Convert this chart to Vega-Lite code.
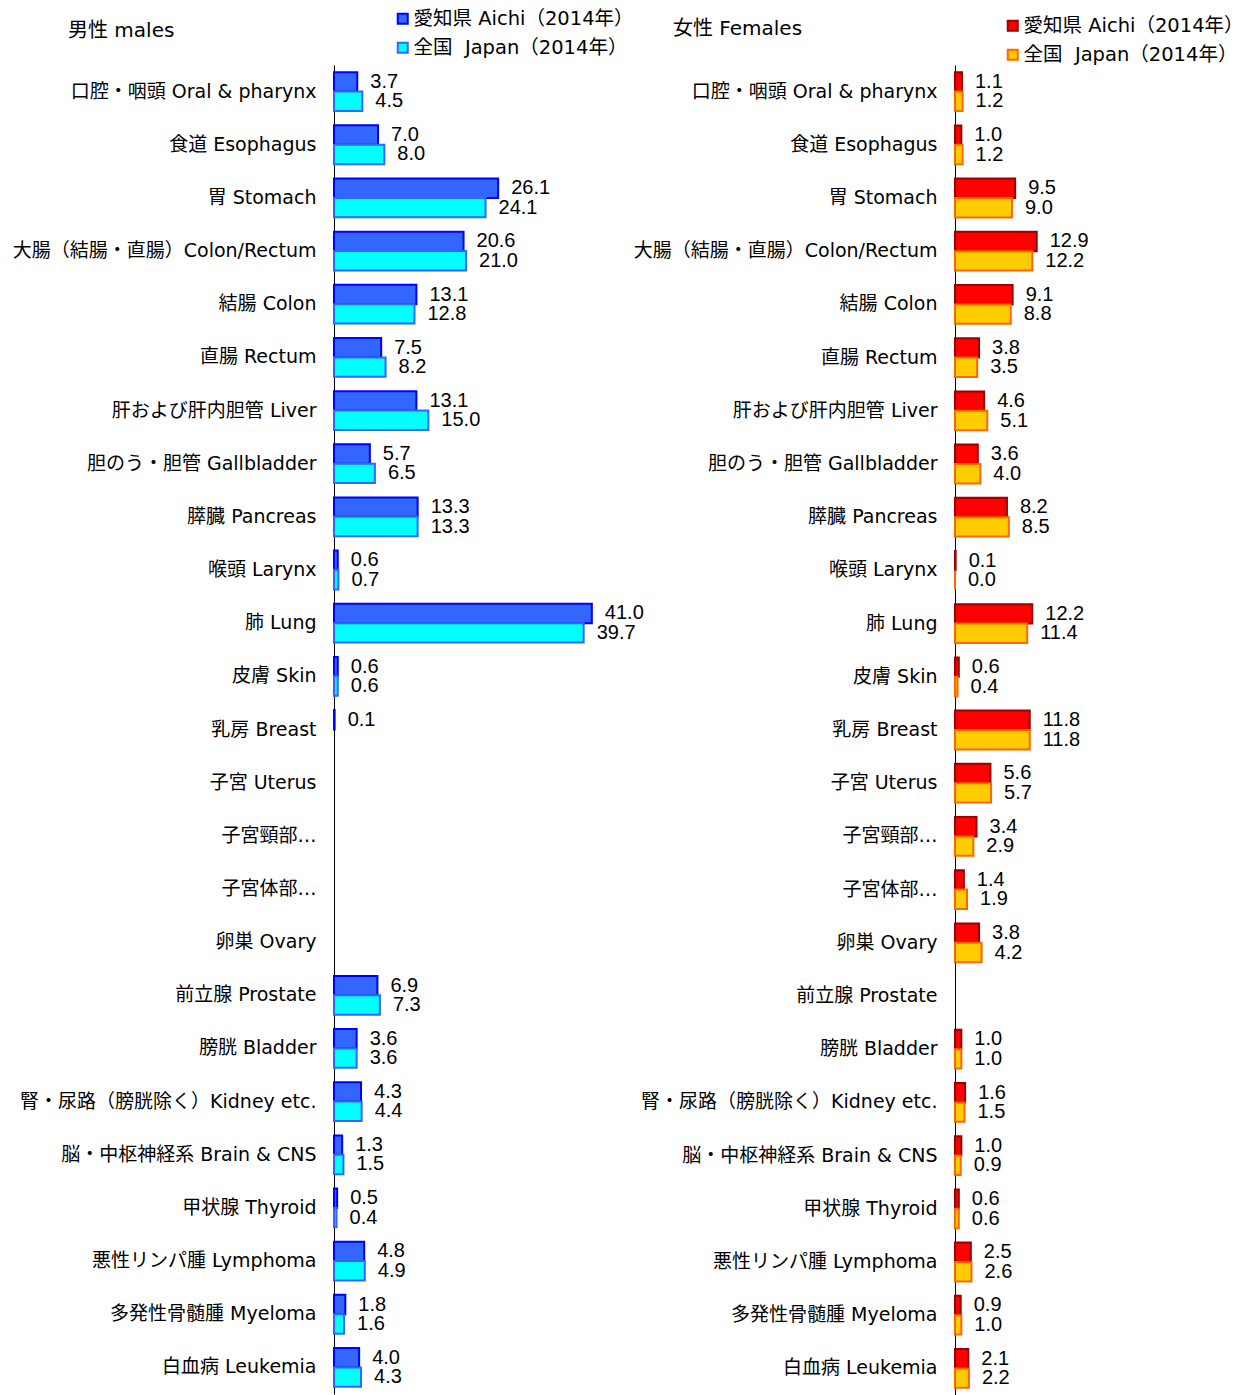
{
  "$schema": "https://vega.github.io/schema/vega-lite/v6.json",
  "background": "white",
  "padding": {"left": 12, "top": 9, "right": 0, "bottom": 0},
  "bounds": "flush",
  "spacing": 338,
  "config": {
    "font": "DejaVu Sans, Noto Sans CJK JP",
    "view": {"stroke": null},
    "axis": {"grid": false}
  },
  "datasets": {
    "males": [
      {"cat": "口腔・咽頭 Oral & pharynx", "series": "愛知県 Aichi（2014年）", "value": 3.7},
      {"cat": "口腔・咽頭 Oral & pharynx", "series": "\u00a0全国\u00a0\u00a0Japan（2014年）", "value": 4.5},
      {"cat": "食道 Esophagus", "series": "愛知県 Aichi（2014年）", "value": 7.0},
      {"cat": "食道 Esophagus", "series": "\u00a0全国\u00a0\u00a0Japan（2014年）", "value": 8.0},
      {"cat": "胃 Stomach", "series": "愛知県 Aichi（2014年）", "value": 26.1},
      {"cat": "胃 Stomach", "series": "\u00a0全国\u00a0\u00a0Japan（2014年）", "value": 24.1},
      {"cat": "大腸（結腸・直腸）Colon/Rectum", "series": "愛知県 Aichi（2014年）", "value": 20.6},
      {"cat": "大腸（結腸・直腸）Colon/Rectum", "series": "\u00a0全国\u00a0\u00a0Japan（2014年）", "value": 21.0},
      {"cat": "結腸 Colon", "series": "愛知県 Aichi（2014年）", "value": 13.1},
      {"cat": "結腸 Colon", "series": "\u00a0全国\u00a0\u00a0Japan（2014年）", "value": 12.8},
      {"cat": "直腸 Rectum", "series": "愛知県 Aichi（2014年）", "value": 7.5},
      {"cat": "直腸 Rectum", "series": "\u00a0全国\u00a0\u00a0Japan（2014年）", "value": 8.2},
      {"cat": "肝および肝内胆管 Liver", "series": "愛知県 Aichi（2014年）", "value": 13.1},
      {"cat": "肝および肝内胆管 Liver", "series": "\u00a0全国\u00a0\u00a0Japan（2014年）", "value": 15.0},
      {"cat": "胆のう・胆管 Gallbladder", "series": "愛知県 Aichi（2014年）", "value": 5.7},
      {"cat": "胆のう・胆管 Gallbladder", "series": "\u00a0全国\u00a0\u00a0Japan（2014年）", "value": 6.5},
      {"cat": "膵臓 Pancreas", "series": "愛知県 Aichi（2014年）", "value": 13.3},
      {"cat": "膵臓 Pancreas", "series": "\u00a0全国\u00a0\u00a0Japan（2014年）", "value": 13.3},
      {"cat": "喉頭 Larynx", "series": "愛知県 Aichi（2014年）", "value": 0.6},
      {"cat": "喉頭 Larynx", "series": "\u00a0全国\u00a0\u00a0Japan（2014年）", "value": 0.7},
      {"cat": "肺 Lung", "series": "愛知県 Aichi（2014年）", "value": 41.0},
      {"cat": "肺 Lung", "series": "\u00a0全国\u00a0\u00a0Japan（2014年）", "value": 39.7},
      {"cat": "皮膚 Skin", "series": "愛知県 Aichi（2014年）", "value": 0.6},
      {"cat": "皮膚 Skin", "series": "\u00a0全国\u00a0\u00a0Japan（2014年）", "value": 0.6},
      {"cat": "乳房 Breast", "series": "愛知県 Aichi（2014年）", "value": 0.1},
      {"cat": "前立腺 Prostate", "series": "愛知県 Aichi（2014年）", "value": 6.9},
      {"cat": "前立腺 Prostate", "series": "\u00a0全国\u00a0\u00a0Japan（2014年）", "value": 7.3},
      {"cat": "膀胱 Bladder", "series": "愛知県 Aichi（2014年）", "value": 3.6},
      {"cat": "膀胱 Bladder", "series": "\u00a0全国\u00a0\u00a0Japan（2014年）", "value": 3.6},
      {"cat": "腎・尿路（膀胱除く）Kidney etc.", "series": "愛知県 Aichi（2014年）", "value": 4.3},
      {"cat": "腎・尿路（膀胱除く）Kidney etc.", "series": "\u00a0全国\u00a0\u00a0Japan（2014年）", "value": 4.4},
      {"cat": "脳・中枢神経系 Brain & CNS", "series": "愛知県 Aichi（2014年）", "value": 1.3},
      {"cat": "脳・中枢神経系 Brain & CNS", "series": "\u00a0全国\u00a0\u00a0Japan（2014年）", "value": 1.5},
      {"cat": "甲状腺 Thyroid", "series": "愛知県 Aichi（2014年）", "value": 0.5},
      {"cat": "甲状腺 Thyroid", "series": "\u00a0全国\u00a0\u00a0Japan（2014年）", "value": 0.4},
      {"cat": "悪性リンパ腫 Lymphoma", "series": "愛知県 Aichi（2014年）", "value": 4.8},
      {"cat": "悪性リンパ腫 Lymphoma", "series": "\u00a0全国\u00a0\u00a0Japan（2014年）", "value": 4.9},
      {"cat": "多発性骨髄腫 Myeloma", "series": "愛知県 Aichi（2014年）", "value": 1.8},
      {"cat": "多発性骨髄腫 Myeloma", "series": "\u00a0全国\u00a0\u00a0Japan（2014年）", "value": 1.6},
      {"cat": "白血病 Leukemia", "series": "愛知県 Aichi（2014年）", "value": 4.0},
      {"cat": "白血病 Leukemia", "series": "\u00a0全国\u00a0\u00a0Japan（2014年）", "value": 4.3}
    ],
    "females": [
      {"cat": "口腔・咽頭 Oral & pharynx", "series": "愛知県 Aichi（2014年）", "value": 1.1},
      {"cat": "口腔・咽頭 Oral & pharynx", "series": "\u00a0全国\u00a0\u00a0Japan（2014年）", "value": 1.2},
      {"cat": "食道 Esophagus", "series": "愛知県 Aichi（2014年）", "value": 1.0},
      {"cat": "食道 Esophagus", "series": "\u00a0全国\u00a0\u00a0Japan（2014年）", "value": 1.2},
      {"cat": "胃 Stomach", "series": "愛知県 Aichi（2014年）", "value": 9.5},
      {"cat": "胃 Stomach", "series": "\u00a0全国\u00a0\u00a0Japan（2014年）", "value": 9.0},
      {"cat": "大腸（結腸・直腸）Colon/Rectum", "series": "愛知県 Aichi（2014年）", "value": 12.9},
      {"cat": "大腸（結腸・直腸）Colon/Rectum", "series": "\u00a0全国\u00a0\u00a0Japan（2014年）", "value": 12.2},
      {"cat": "結腸 Colon", "series": "愛知県 Aichi（2014年）", "value": 9.1},
      {"cat": "結腸 Colon", "series": "\u00a0全国\u00a0\u00a0Japan（2014年）", "value": 8.8},
      {"cat": "直腸 Rectum", "series": "愛知県 Aichi（2014年）", "value": 3.8},
      {"cat": "直腸 Rectum", "series": "\u00a0全国\u00a0\u00a0Japan（2014年）", "value": 3.5},
      {"cat": "肝および肝内胆管 Liver", "series": "愛知県 Aichi（2014年）", "value": 4.6},
      {"cat": "肝および肝内胆管 Liver", "series": "\u00a0全国\u00a0\u00a0Japan（2014年）", "value": 5.1},
      {"cat": "胆のう・胆管 Gallbladder", "series": "愛知県 Aichi（2014年）", "value": 3.6},
      {"cat": "胆のう・胆管 Gallbladder", "series": "\u00a0全国\u00a0\u00a0Japan（2014年）", "value": 4.0},
      {"cat": "膵臓 Pancreas", "series": "愛知県 Aichi（2014年）", "value": 8.2},
      {"cat": "膵臓 Pancreas", "series": "\u00a0全国\u00a0\u00a0Japan（2014年）", "value": 8.5},
      {"cat": "喉頭 Larynx", "series": "愛知県 Aichi（2014年）", "value": 0.1},
      {"cat": "喉頭 Larynx", "series": "\u00a0全国\u00a0\u00a0Japan（2014年）", "value": 0.0},
      {"cat": "肺 Lung", "series": "愛知県 Aichi（2014年）", "value": 12.2},
      {"cat": "肺 Lung", "series": "\u00a0全国\u00a0\u00a0Japan（2014年）", "value": 11.4},
      {"cat": "皮膚 Skin", "series": "愛知県 Aichi（2014年）", "value": 0.6},
      {"cat": "皮膚 Skin", "series": "\u00a0全国\u00a0\u00a0Japan（2014年）", "value": 0.4},
      {"cat": "乳房 Breast", "series": "愛知県 Aichi（2014年）", "value": 11.8},
      {"cat": "乳房 Breast", "series": "\u00a0全国\u00a0\u00a0Japan（2014年）", "value": 11.8},
      {"cat": "子宮 Uterus", "series": "愛知県 Aichi（2014年）", "value": 5.6},
      {"cat": "子宮 Uterus", "series": "\u00a0全国\u00a0\u00a0Japan（2014年）", "value": 5.7},
      {"cat": "子宮頸部…", "series": "愛知県 Aichi（2014年）", "value": 3.4},
      {"cat": "子宮頸部…", "series": "\u00a0全国\u00a0\u00a0Japan（2014年）", "value": 2.9},
      {"cat": "子宮体部…", "series": "愛知県 Aichi（2014年）", "value": 1.4},
      {"cat": "子宮体部…", "series": "\u00a0全国\u00a0\u00a0Japan（2014年）", "value": 1.9},
      {"cat": "卵巣 Ovary", "series": "愛知県 Aichi（2014年）", "value": 3.8},
      {"cat": "卵巣 Ovary", "series": "\u00a0全国\u00a0\u00a0Japan（2014年）", "value": 4.2},
      {"cat": "膀胱 Bladder", "series": "愛知県 Aichi（2014年）", "value": 1.0},
      {"cat": "膀胱 Bladder", "series": "\u00a0全国\u00a0\u00a0Japan（2014年）", "value": 1.0},
      {"cat": "腎・尿路（膀胱除く）Kidney etc.", "series": "愛知県 Aichi（2014年）", "value": 1.6},
      {"cat": "腎・尿路（膀胱除く）Kidney etc.", "series": "\u00a0全国\u00a0\u00a0Japan（2014年）", "value": 1.5},
      {"cat": "脳・中枢神経系 Brain & CNS", "series": "愛知県 Aichi（2014年）", "value": 1.0},
      {"cat": "脳・中枢神経系 Brain & CNS", "series": "\u00a0全国\u00a0\u00a0Japan（2014年）", "value": 0.9},
      {"cat": "甲状腺 Thyroid", "series": "愛知県 Aichi（2014年）", "value": 0.6},
      {"cat": "甲状腺 Thyroid", "series": "\u00a0全国\u00a0\u00a0Japan（2014年）", "value": 0.6},
      {"cat": "悪性リンパ腫 Lymphoma", "series": "愛知県 Aichi（2014年）", "value": 2.5},
      {"cat": "悪性リンパ腫 Lymphoma", "series": "\u00a0全国\u00a0\u00a0Japan（2014年）", "value": 2.6},
      {"cat": "多発性骨髄腫 Myeloma", "series": "愛知県 Aichi（2014年）", "value": 0.9},
      {"cat": "多発性骨髄腫 Myeloma", "series": "\u00a0全国\u00a0\u00a0Japan（2014年）", "value": 1.0},
      {"cat": "白血病 Leukemia", "series": "愛知県 Aichi（2014年）", "value": 2.1},
      {"cat": "白血病 Leukemia", "series": "\u00a0全国\u00a0\u00a0Japan（2014年）", "value": 2.2}
    ]
  },
  "hconcat": [
    {
      "width": 283,
      "height": 1329,
      "title": {"text": "男性 males", "anchor": "start", "frame": "group", "dx": -266, "fontSize": 20, "fontWeight": "normal", "color": "black", "offset": -32},
      "data": {"name": "males"},
      "encoding": {
        "y": {
          "field": "cat", "type": "nominal",
          "scale": {"domain": ["口腔・咽頭 Oral & pharynx", "食道 Esophagus", "胃 Stomach", "大腸（結腸・直腸）Colon/Rectum", "結腸 Colon", "直腸 Rectum", "肝および肝内胆管 Liver", "胆のう・胆管 Gallbladder", "膵臓 Pancreas", "喉頭 Larynx", "肺 Lung", "皮膚 Skin", "乳房 Breast", "子宮 Uterus", "子宮頸部…", "子宮体部…", "卵巣 Ovary", "前立腺 Prostate", "膀胱 Bladder", "腎・尿路（膀胱除く）Kidney etc.", "脳・中枢神経系 Brain & CNS", "甲状腺 Thyroid", "悪性リンパ腫 Lymphoma", "多発性骨髄腫 Myeloma", "白血病 Leukemia"], "paddingInner": 0.27, "paddingOuter": 0.135},
          "axis": {"title": null, "ticks": false, "labelFontSize": 19, "labelColor": "black", "labelPadding": 18, "labelLimit": 400, "domainColor": "black", "domainWidth": 1}
        },
        "yOffset": {"field": "series", "type": "nominal", "scale": {"domain": ["愛知県 Aichi（2014年）", "\u00a0全国\u00a0\u00a0Japan（2014年）"], "paddingInner": 0, "paddingOuter": 0}}
      },
      "layer": [
        {
          "mark": {"type": "bar", "strokeWidth": 2},
          "encoding": {
            "x": {"field": "value", "type": "quantitative", "scale": {"domain": [0, 45]}, "axis": null},
            "fill": {"field": "series", "type": "nominal", "scale": {"domain": ["愛知県 Aichi（2014年）", "\u00a0全国\u00a0\u00a0Japan（2014年）"], "range": ["#3366FF", "#00FFFF"]},
              "legend": {"orient": "none", "legendX": 59, "legendY": -56, "title": null, "symbolType": "square", "symbolSize": 100, "symbolStrokeWidth": 2, "labelFontSize": 19.5, "labelColor": "black", "labelLimit": 400, "rowPadding": 8, "labelOffset": 1}},
            "stroke": {"field": "series", "type": "nominal", "scale": {"domain": ["愛知県 Aichi（2014年）", "\u00a0全国\u00a0\u00a0Japan（2014年）"], "range": ["#0000FF", "#3366FF"]},
              "legend": {"orient": "none", "legendX": 59, "legendY": -56, "title": null, "symbolType": "square", "symbolSize": 100, "symbolStrokeWidth": 2, "labelFontSize": 19.5, "labelColor": "black", "labelLimit": 400, "rowPadding": 8, "labelOffset": 1}}
          }
        },
        {
          "mark": {"type": "text", "align": "left", "baseline": "middle", "dx": 13, "fontSize": 20, "font": "Liberation Sans", "color": "black"},
          "encoding": {
            "x": {"field": "value", "type": "quantitative"},
            "text": {"field": "value", "type": "quantitative", "format": ".1f"}
          }
        }
      ]
    },
    {
      "width": 285,
      "height": 1330,
      "title": {"text": "女性 Females", "anchor": "start", "frame": "group", "dx": -282, "fontSize": 20, "fontWeight": "normal", "color": "black", "offset": -23},
      "data": {"name": "females"},
      "encoding": {
        "y": {
          "field": "cat", "type": "nominal",
          "scale": {"domain": ["口腔・咽頭 Oral & pharynx", "食道 Esophagus", "胃 Stomach", "大腸（結腸・直腸）Colon/Rectum", "結腸 Colon", "直腸 Rectum", "肝および肝内胆管 Liver", "胆のう・胆管 Gallbladder", "膵臓 Pancreas", "喉頭 Larynx", "肺 Lung", "皮膚 Skin", "乳房 Breast", "子宮 Uterus", "子宮頸部…", "子宮体部…", "卵巣 Ovary", "前立腺 Prostate", "膀胱 Bladder", "腎・尿路（膀胱除く）Kidney etc.", "脳・中枢神経系 Brain & CNS", "甲状腺 Thyroid", "悪性リンパ腫 Lymphoma", "多発性骨髄腫 Myeloma", "白血病 Leukemia"], "paddingInner": 0.27, "paddingOuter": 0.135},
          "axis": {"title": null, "ticks": false, "labelFontSize": 19, "labelColor": "black", "labelPadding": 18, "labelLimit": 400, "domainColor": "black", "domainWidth": 1}
        },
        "yOffset": {"field": "series", "type": "nominal", "scale": {"domain": ["愛知県 Aichi（2014年）", "\u00a0全国\u00a0\u00a0Japan（2014年）"], "paddingInner": 0, "paddingOuter": 0}}
      },
      "layer": [
        {
          "mark": {"type": "bar", "strokeWidth": 2},
          "encoding": {
            "x": {"field": "value", "type": "quantitative", "scale": {"domain": [0, 45]}, "axis": null},
            "fill": {"field": "series", "type": "nominal", "scale": {"domain": ["愛知県 Aichi（2014年）", "\u00a0全国\u00a0\u00a0Japan（2014年）"], "range": ["#FF0000", "#FFCC00"]},
              "legend": {"orient": "none", "legendX": 48, "legendY": -49, "title": null, "symbolType": "square", "symbolSize": 100, "symbolStrokeWidth": 2, "labelFontSize": 19.5, "labelColor": "black", "labelLimit": 400, "rowPadding": 8, "labelOffset": 1}},
            "stroke": {"field": "series", "type": "nominal", "scale": {"domain": ["愛知県 Aichi（2014年）", "\u00a0全国\u00a0\u00a0Japan（2014年）"], "range": ["#990000", "#FF6600"]},
              "legend": {"orient": "none", "legendX": 48, "legendY": -49, "title": null, "symbolType": "square", "symbolSize": 100, "symbolStrokeWidth": 2, "labelFontSize": 19.5, "labelColor": "black", "labelLimit": 400, "rowPadding": 8, "labelOffset": 1}}
          }
        },
        {
          "mark": {"type": "text", "align": "left", "baseline": "middle", "dx": 13, "fontSize": 20, "font": "Liberation Sans", "color": "black"},
          "encoding": {
            "x": {"field": "value", "type": "quantitative"},
            "text": {"field": "value", "type": "quantitative", "format": ".1f"}
          }
        }
      ]
    }
  ],
  "resolve": {
    "scale": {"x": "independent", "y": "independent", "yOffset": "independent", "fill": "independent", "stroke": "independent"},
    "legend": {"fill": "independent", "stroke": "independent"}
  }
}
